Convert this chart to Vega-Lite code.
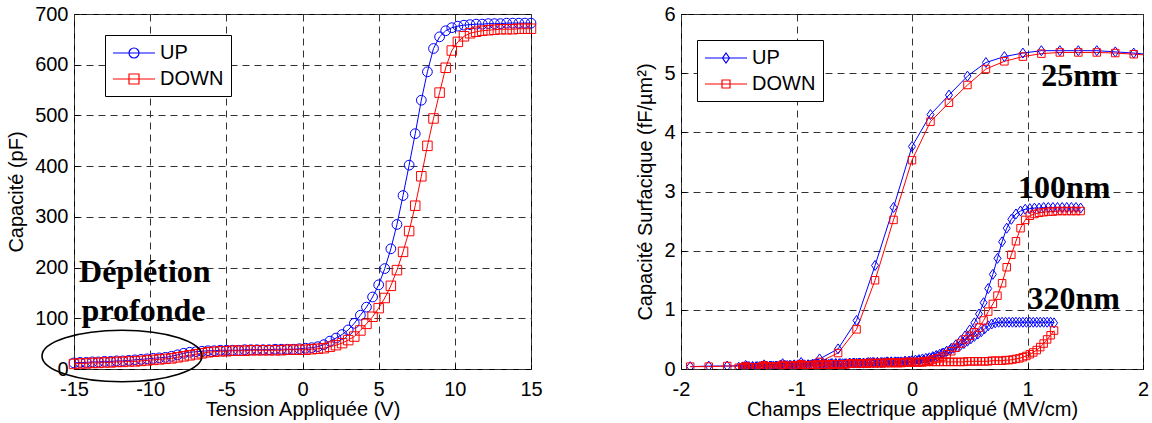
{
"$schema":"https://vega.github.io/schema/vega-lite/v6.json",
"background":"white",
"padding":{"left":6,"top":3,"right":5,"bottom":5},
"spacing":150,
"bounds":"flush",
"config":{
"font":"Liberation Sans",
"view":{"stroke":"black","strokeWidth":1},
"axis":{"domain":false,"grid":true,"gridColor":"#333","gridDash":[7,5],"gridWidth":1,"tickColor":"black","tickSize":-5,"labelFont":"Liberation Sans","labelFontSize":20,"labelColor":"black","labelFlush":false,"labelOverlap":false,"titleFont":"Liberation Sans","titleFontSize":20,"titleFontWeight":"normal","titleColor":"black"},
"axisX":{"labelPadding":15,"titlePadding":0},
"axisY":{"labelPadding":11,"titlePadding":8},
"legend":{"labelFont":"Liberation Sans","labelFontSize":20,"labelColor":"black","symbolSize":400,"symbolStrokeWidth":1.2,"symbolOpacity":1,"symbolFillColor":"transparent","labelOffset":26,"padding":7,"strokeColor":"black","fillColor":"white","rowPadding":5}
},
"datasets":{
"L":[
{"s":"UP","x":-15,"y":12},{"s":"UP","x":-14.6,"y":13},{"s":"UP","x":-14.2,"y":13},{"s":"UP","x":-13.8,"y":14},{"s":"UP","x":-13.4,"y":14},{"s":"UP","x":-13,"y":15},{"s":"UP","x":-12.6,"y":15},{"s":"UP","x":-12.2,"y":16},{"s":"UP","x":-11.8,"y":16},{"s":"UP","x":-11.4,"y":17},
{"s":"UP","x":-11,"y":18},{"s":"UP","x":-10.6,"y":19},{"s":"UP","x":-10.2,"y":20},{"s":"UP","x":-9.8,"y":21},{"s":"UP","x":-9.4,"y":22},{"s":"UP","x":-9,"y":23},{"s":"UP","x":-8.6,"y":25},{"s":"UP","x":-8.2,"y":28},{"s":"UP","x":-7.8,"y":31},{"s":"UP","x":-7.4,"y":33},
{"s":"UP","x":-7,"y":34},{"s":"UP","x":-6.6,"y":35},{"s":"UP","x":-6.2,"y":36},{"s":"UP","x":-5.8,"y":36},{"s":"UP","x":-5.4,"y":37},{"s":"UP","x":-5,"y":37},{"s":"UP","x":-4.6,"y":37},{"s":"UP","x":-4.2,"y":37},{"s":"UP","x":-3.8,"y":38},{"s":"UP","x":-3.4,"y":38},
{"s":"UP","x":-3,"y":38},{"s":"UP","x":-2.6,"y":38},{"s":"UP","x":-2.2,"y":38},{"s":"UP","x":-1.8,"y":39},{"s":"UP","x":-1.4,"y":39},{"s":"UP","x":-1,"y":39},{"s":"UP","x":-0.6,"y":39},{"s":"UP","x":-0.2,"y":40},{"s":"UP","x":0.2,"y":41},{"s":"UP","x":0.6,"y":42},
{"s":"UP","x":1,"y":44},{"s":"UP","x":1.4,"y":48},{"s":"UP","x":1.8,"y":55},{"s":"UP","x":2.2,"y":61},{"s":"UP","x":2.6,"y":68},{"s":"UP","x":3,"y":77},{"s":"UP","x":3.4,"y":90},{"s":"UP","x":3.8,"y":106},{"s":"UP","x":4.2,"y":122},{"s":"UP","x":4.6,"y":142},
{"s":"UP","x":5,"y":166},{"s":"UP","x":5.4,"y":198},{"s":"UP","x":5.8,"y":237},{"s":"UP","x":6.2,"y":285},{"s":"UP","x":6.6,"y":342},{"s":"UP","x":7,"y":402},{"s":"UP","x":7.4,"y":464},{"s":"UP","x":7.8,"y":530},{"s":"UP","x":8.2,"y":586},{"s":"UP","x":8.6,"y":632},
{"s":"UP","x":9,"y":655},{"s":"UP","x":9.4,"y":667},{"s":"UP","x":9.8,"y":673},{"s":"UP","x":10.2,"y":676},{"s":"UP","x":10.6,"y":678},{"s":"UP","x":11,"y":679},{"s":"UP","x":11.4,"y":680},{"s":"UP","x":11.8,"y":680},{"s":"UP","x":12.2,"y":681},{"s":"UP","x":12.6,"y":681},
{"s":"UP","x":13,"y":681},{"s":"UP","x":13.4,"y":682},{"s":"UP","x":13.8,"y":682},{"s":"UP","x":14.2,"y":682},{"s":"UP","x":14.6,"y":682},{"s":"UP","x":15,"y":682},
{"s":"DOWN","x":-15,"y":10},{"s":"DOWN","x":-14.6,"y":11},{"s":"DOWN","x":-14.2,"y":11},{"s":"DOWN","x":-13.8,"y":12},{"s":"DOWN","x":-13.4,"y":12},{"s":"DOWN","x":-13,"y":13},{"s":"DOWN","x":-12.6,"y":13},{"s":"DOWN","x":-12.2,"y":14},{"s":"DOWN","x":-11.8,"y":14},{"s":"DOWN","x":-11.4,"y":15},
{"s":"DOWN","x":-11,"y":15},{"s":"DOWN","x":-10.6,"y":16},{"s":"DOWN","x":-10.2,"y":17},{"s":"DOWN","x":-9.8,"y":18},{"s":"DOWN","x":-9.4,"y":19},{"s":"DOWN","x":-9,"y":20},{"s":"DOWN","x":-8.6,"y":21},{"s":"DOWN","x":-8.2,"y":23},{"s":"DOWN","x":-7.8,"y":25},{"s":"DOWN","x":-7.4,"y":27},
{"s":"DOWN","x":-7,"y":29},{"s":"DOWN","x":-6.6,"y":31},{"s":"DOWN","x":-6.2,"y":33},{"s":"DOWN","x":-5.8,"y":34},{"s":"DOWN","x":-5.4,"y":35},{"s":"DOWN","x":-5,"y":35},{"s":"DOWN","x":-4.6,"y":36},{"s":"DOWN","x":-4.2,"y":36},{"s":"DOWN","x":-3.8,"y":36},{"s":"DOWN","x":-3.4,"y":37},
{"s":"DOWN","x":-3,"y":37},{"s":"DOWN","x":-2.6,"y":37},{"s":"DOWN","x":-2.2,"y":37},{"s":"DOWN","x":-1.8,"y":37},{"s":"DOWN","x":-1.4,"y":37},{"s":"DOWN","x":-1,"y":38},{"s":"DOWN","x":-0.6,"y":38},{"s":"DOWN","x":-0.2,"y":38},{"s":"DOWN","x":0.2,"y":38},{"s":"DOWN","x":0.6,"y":39},
{"s":"DOWN","x":1,"y":40},{"s":"DOWN","x":1.4,"y":41},{"s":"DOWN","x":1.8,"y":44},{"s":"DOWN","x":2.2,"y":47},{"s":"DOWN","x":2.6,"y":51},{"s":"DOWN","x":3,"y":57},{"s":"DOWN","x":3.4,"y":64},{"s":"DOWN","x":3.8,"y":76},{"s":"DOWN","x":4.2,"y":89},{"s":"DOWN","x":4.6,"y":103},
{"s":"DOWN","x":5,"y":120},{"s":"DOWN","x":5.4,"y":140},{"s":"DOWN","x":5.8,"y":164},{"s":"DOWN","x":6.2,"y":195},{"s":"DOWN","x":6.6,"y":231},{"s":"DOWN","x":7,"y":272},{"s":"DOWN","x":7.4,"y":322},{"s":"DOWN","x":7.8,"y":380},{"s":"DOWN","x":8.2,"y":440},{"s":"DOWN","x":8.6,"y":494},
{"s":"DOWN","x":9,"y":545},{"s":"DOWN","x":9.4,"y":594},{"s":"DOWN","x":9.8,"y":628},{"s":"DOWN","x":10.2,"y":645},{"s":"DOWN","x":10.6,"y":656},{"s":"DOWN","x":11,"y":662},{"s":"DOWN","x":11.4,"y":665},{"s":"DOWN","x":11.8,"y":667},{"s":"DOWN","x":12.2,"y":668},{"s":"DOWN","x":12.6,"y":669},
{"s":"DOWN","x":13,"y":670},{"s":"DOWN","x":13.4,"y":670},{"s":"DOWN","x":13.8,"y":670},{"s":"DOWN","x":14.2,"y":671},{"s":"DOWN","x":14.6,"y":671},{"s":"DOWN","x":15,"y":671}
],
"R":[
{"t":"25nm","s":"UP","x":-1.92,"y":0.04},{"t":"25nm","s":"UP","x":-1.76,"y":0.05},{"t":"25nm","s":"UP","x":-1.6,"y":0.05},{"t":"25nm","s":"UP","x":-1.44,"y":0.06},{"t":"25nm","s":"UP","x":-1.28,"y":0.07},{"t":"25nm","s":"UP","x":-1.12,"y":0.09},{"t":"25nm","s":"UP","x":-0.96,"y":0.11},{"t":"25nm","s":"UP","x":-0.8,"y":0.17},{"t":"25nm","s":"UP","x":-0.64,"y":0.34},{"t":"25nm","s":"UP","x":-0.48,"y":0.82},{"t":"25nm","s":"UP","x":-0.32,"y":1.75},{"t":"25nm","s":"UP","x":-0.16,"y":2.73},{"t":"25nm","s":"UP","x":0,"y":3.76},{"t":"25nm","s":"UP","x":0.16,"y":4.3},{"t":"25nm","s":"UP","x":0.32,"y":4.63},{"t":"25nm","s":"UP","x":0.48,"y":4.95},{"t":"25nm","s":"UP","x":0.64,"y":5.18},{"t":"25nm","s":"UP","x":0.8,"y":5.28},{"t":"25nm","s":"UP","x":0.96,"y":5.34},{"t":"25nm","s":"UP","x":1.12,"y":5.38},{"t":"25nm","s":"UP","x":1.28,"y":5.38},{"t":"25nm","s":"UP","x":1.44,"y":5.38},{"t":"25nm","s":"UP","x":1.6,"y":5.38},{"t":"25nm","s":"UP","x":1.76,"y":5.36},{"t":"25nm","s":"UP","x":1.92,"y":5.34},{"t":"25nm","s":"UP","x":2.08,"y":5.31},
{"t":"25nm","s":"DOWN","x":-1.92,"y":0.04},{"t":"25nm","s":"DOWN","x":-1.76,"y":0.04},{"t":"25nm","s":"DOWN","x":-1.6,"y":0.05},{"t":"25nm","s":"DOWN","x":-1.44,"y":0.05},{"t":"25nm","s":"DOWN","x":-1.28,"y":0.06},{"t":"25nm","s":"DOWN","x":-1.12,"y":0.07},{"t":"25nm","s":"DOWN","x":-0.96,"y":0.08},{"t":"25nm","s":"DOWN","x":-0.8,"y":0.12},{"t":"25nm","s":"DOWN","x":-0.64,"y":0.27},{"t":"25nm","s":"DOWN","x":-0.48,"y":0.67},{"t":"25nm","s":"DOWN","x":-0.32,"y":1.5},{"t":"25nm","s":"DOWN","x":-0.16,"y":2.52},{"t":"25nm","s":"DOWN","x":0,"y":3.53},{"t":"25nm","s":"DOWN","x":0.16,"y":4.18},{"t":"25nm","s":"DOWN","x":0.32,"y":4.5},{"t":"25nm","s":"DOWN","x":0.48,"y":4.8},{"t":"25nm","s":"DOWN","x":0.64,"y":5.07},{"t":"25nm","s":"DOWN","x":0.8,"y":5.2},{"t":"25nm","s":"DOWN","x":0.96,"y":5.28},{"t":"25nm","s":"DOWN","x":1.12,"y":5.33},{"t":"25nm","s":"DOWN","x":1.28,"y":5.35},{"t":"25nm","s":"DOWN","x":1.44,"y":5.35},{"t":"25nm","s":"DOWN","x":1.6,"y":5.35},{"t":"25nm","s":"DOWN","x":1.76,"y":5.34},{"t":"25nm","s":"DOWN","x":1.92,"y":5.32},{"t":"25nm","s":"DOWN","x":2.08,"y":5.3},
{"t":"100nm","s":"UP","x":-1.5,"y":0.03},{"t":"100nm","s":"UP","x":-1.46,"y":0.03},{"t":"100nm","s":"UP","x":-1.42,"y":0.04},{"t":"100nm","s":"UP","x":-1.38,"y":0.04},{"t":"100nm","s":"UP","x":-1.34,"y":0.04},{"t":"100nm","s":"UP","x":-1.3,"y":0.05},{"t":"100nm","s":"UP","x":-1.26,"y":0.05},{"t":"100nm","s":"UP","x":-1.22,"y":0.05},{"t":"100nm","s":"UP","x":-1.18,"y":0.05},{"t":"100nm","s":"UP","x":-1.14,"y":0.06},{"t":"100nm","s":"UP","x":-1.1,"y":0.06},{"t":"100nm","s":"UP","x":-1.06,"y":0.06},{"t":"100nm","s":"UP","x":-1.02,"y":0.07},{"t":"100nm","s":"UP","x":-0.98,"y":0.07},{"t":"100nm","s":"UP","x":-0.94,"y":0.07},{"t":"100nm","s":"UP","x":-0.9,"y":0.07},{"t":"100nm","s":"UP","x":-0.86,"y":0.08},{"t":"100nm","s":"UP","x":-0.82,"y":0.08},{"t":"100nm","s":"UP","x":-0.78,"y":0.08},{"t":"100nm","s":"UP","x":-0.74,"y":0.08},{"t":"100nm","s":"UP","x":-0.7,"y":0.09},{"t":"100nm","s":"UP","x":-0.66,"y":0.09},{"t":"100nm","s":"UP","x":-0.62,"y":0.09},{"t":"100nm","s":"UP","x":-0.58,"y":0.09},{"t":"100nm","s":"UP","x":-0.54,"y":0.1},{"t":"100nm","s":"UP","x":-0.5,"y":0.1},{"t":"100nm","s":"UP","x":-0.46,"y":0.1},{"t":"100nm","s":"UP","x":-0.42,"y":0.1},{"t":"100nm","s":"UP","x":-0.38,"y":0.11},{"t":"100nm","s":"UP","x":-0.34,"y":0.11},{"t":"100nm","s":"UP","x":-0.3,"y":0.11},{"t":"100nm","s":"UP","x":-0.26,"y":0.11},{"t":"100nm","s":"UP","x":-0.22,"y":0.12},{"t":"100nm","s":"UP","x":-0.18,"y":0.12},{"t":"100nm","s":"UP","x":-0.14,"y":0.12},{"t":"100nm","s":"UP","x":-0.1,"y":0.12},{"t":"100nm","s":"UP","x":-0.06,"y":0.13},{"t":"100nm","s":"UP","x":-0.02,"y":0.13},
{"t":"100nm","s":"UP","x":0.02,"y":0.13},{"t":"100nm","s":"UP","x":0.06,"y":0.14},{"t":"100nm","s":"UP","x":0.1,"y":0.15},{"t":"100nm","s":"UP","x":0.14,"y":0.17},{"t":"100nm","s":"UP","x":0.18,"y":0.19},{"t":"100nm","s":"UP","x":0.22,"y":0.22},{"t":"100nm","s":"UP","x":0.26,"y":0.26},{"t":"100nm","s":"UP","x":0.3,"y":0.3},{"t":"100nm","s":"UP","x":0.34,"y":0.35},{"t":"100nm","s":"UP","x":0.38,"y":0.41},{"t":"100nm","s":"UP","x":0.42,"y":0.48},{"t":"100nm","s":"UP","x":0.46,"y":0.56},{"t":"100nm","s":"UP","x":0.5,"y":0.66},{"t":"100nm","s":"UP","x":0.54,"y":0.78},{"t":"100nm","s":"UP","x":0.58,"y":0.93},{"t":"100nm","s":"UP","x":0.62,"y":1.12},{"t":"100nm","s":"UP","x":0.66,"y":1.36},{"t":"100nm","s":"UP","x":0.7,"y":1.6},{"t":"100nm","s":"UP","x":0.74,"y":1.87},{"t":"100nm","s":"UP","x":0.78,"y":2.15},{"t":"100nm","s":"UP","x":0.82,"y":2.38},{"t":"100nm","s":"UP","x":0.86,"y":2.53},{"t":"100nm","s":"UP","x":0.9,"y":2.62},{"t":"100nm","s":"UP","x":0.94,"y":2.67},{"t":"100nm","s":"UP","x":0.98,"y":2.7},{"t":"100nm","s":"UP","x":1.02,"y":2.71},{"t":"100nm","s":"UP","x":1.06,"y":2.72},{"t":"100nm","s":"UP","x":1.1,"y":2.72},{"t":"100nm","s":"UP","x":1.14,"y":2.73},{"t":"100nm","s":"UP","x":1.18,"y":2.73},{"t":"100nm","s":"UP","x":1.22,"y":2.73},{"t":"100nm","s":"UP","x":1.26,"y":2.73},{"t":"100nm","s":"UP","x":1.3,"y":2.73},{"t":"100nm","s":"UP","x":1.34,"y":2.73},{"t":"100nm","s":"UP","x":1.38,"y":2.73},{"t":"100nm","s":"UP","x":1.42,"y":2.73},{"t":"100nm","s":"UP","x":1.46,"y":2.72},
{"t":"100nm","s":"DOWN","x":-1.5,"y":0.02},{"t":"100nm","s":"DOWN","x":-1.46,"y":0.02},{"t":"100nm","s":"DOWN","x":-1.42,"y":0.03},{"t":"100nm","s":"DOWN","x":-1.38,"y":0.03},{"t":"100nm","s":"DOWN","x":-1.34,"y":0.03},{"t":"100nm","s":"DOWN","x":-1.3,"y":0.04},{"t":"100nm","s":"DOWN","x":-1.26,"y":0.04},{"t":"100nm","s":"DOWN","x":-1.22,"y":0.04},{"t":"100nm","s":"DOWN","x":-1.18,"y":0.04},{"t":"100nm","s":"DOWN","x":-1.14,"y":0.05},{"t":"100nm","s":"DOWN","x":-1.1,"y":0.05},{"t":"100nm","s":"DOWN","x":-1.06,"y":0.05},{"t":"100nm","s":"DOWN","x":-1.02,"y":0.06},{"t":"100nm","s":"DOWN","x":-0.98,"y":0.06},{"t":"100nm","s":"DOWN","x":-0.94,"y":0.06},{"t":"100nm","s":"DOWN","x":-0.9,"y":0.06},{"t":"100nm","s":"DOWN","x":-0.86,"y":0.07},{"t":"100nm","s":"DOWN","x":-0.82,"y":0.07},{"t":"100nm","s":"DOWN","x":-0.78,"y":0.07},{"t":"100nm","s":"DOWN","x":-0.74,"y":0.07},{"t":"100nm","s":"DOWN","x":-0.7,"y":0.08},{"t":"100nm","s":"DOWN","x":-0.66,"y":0.08},{"t":"100nm","s":"DOWN","x":-0.62,"y":0.08},{"t":"100nm","s":"DOWN","x":-0.58,"y":0.08},{"t":"100nm","s":"DOWN","x":-0.54,"y":0.09},{"t":"100nm","s":"DOWN","x":-0.5,"y":0.09},{"t":"100nm","s":"DOWN","x":-0.46,"y":0.09},{"t":"100nm","s":"DOWN","x":-0.42,"y":0.09},{"t":"100nm","s":"DOWN","x":-0.38,"y":0.1},{"t":"100nm","s":"DOWN","x":-0.34,"y":0.1},{"t":"100nm","s":"DOWN","x":-0.3,"y":0.1},{"t":"100nm","s":"DOWN","x":-0.26,"y":0.1},{"t":"100nm","s":"DOWN","x":-0.22,"y":0.11},{"t":"100nm","s":"DOWN","x":-0.18,"y":0.11},{"t":"100nm","s":"DOWN","x":-0.14,"y":0.11},{"t":"100nm","s":"DOWN","x":-0.1,"y":0.11},{"t":"100nm","s":"DOWN","x":-0.06,"y":0.12},{"t":"100nm","s":"DOWN","x":-0.02,"y":0.12},
{"t":"100nm","s":"DOWN","x":0.02,"y":0.12},{"t":"100nm","s":"DOWN","x":0.06,"y":0.12},{"t":"100nm","s":"DOWN","x":0.1,"y":0.13},{"t":"100nm","s":"DOWN","x":0.14,"y":0.14},{"t":"100nm","s":"DOWN","x":0.18,"y":0.16},{"t":"100nm","s":"DOWN","x":0.22,"y":0.18},{"t":"100nm","s":"DOWN","x":0.26,"y":0.21},{"t":"100nm","s":"DOWN","x":0.3,"y":0.25},{"t":"100nm","s":"DOWN","x":0.34,"y":0.3},{"t":"100nm","s":"DOWN","x":0.38,"y":0.36},{"t":"100nm","s":"DOWN","x":0.42,"y":0.43},{"t":"100nm","s":"DOWN","x":0.46,"y":0.5},{"t":"100nm","s":"DOWN","x":0.5,"y":0.56},{"t":"100nm","s":"DOWN","x":0.54,"y":0.62},{"t":"100nm","s":"DOWN","x":0.58,"y":0.7},{"t":"100nm","s":"DOWN","x":0.62,"y":0.82},{"t":"100nm","s":"DOWN","x":0.66,"y":0.97},{"t":"100nm","s":"DOWN","x":0.7,"y":1.1},{"t":"100nm","s":"DOWN","x":0.74,"y":1.24},{"t":"100nm","s":"DOWN","x":0.78,"y":1.45},{"t":"100nm","s":"DOWN","x":0.82,"y":1.72},{"t":"100nm","s":"DOWN","x":0.86,"y":1.93},{"t":"100nm","s":"DOWN","x":0.9,"y":2.16},{"t":"100nm","s":"DOWN","x":0.94,"y":2.38},{"t":"100nm","s":"DOWN","x":0.98,"y":2.52},{"t":"100nm","s":"DOWN","x":1.02,"y":2.59},{"t":"100nm","s":"DOWN","x":1.06,"y":2.62},{"t":"100nm","s":"DOWN","x":1.1,"y":2.64},{"t":"100nm","s":"DOWN","x":1.14,"y":2.65},{"t":"100nm","s":"DOWN","x":1.18,"y":2.66},{"t":"100nm","s":"DOWN","x":1.22,"y":2.66},{"t":"100nm","s":"DOWN","x":1.26,"y":2.67},{"t":"100nm","s":"DOWN","x":1.3,"y":2.67},{"t":"100nm","s":"DOWN","x":1.34,"y":2.67},{"t":"100nm","s":"DOWN","x":1.38,"y":2.67},{"t":"100nm","s":"DOWN","x":1.42,"y":2.67},{"t":"100nm","s":"DOWN","x":1.46,"y":2.67},
{"t":"320nm","s":"UP","x":-1.47,"y":0.03},{"t":"320nm","s":"UP","x":-1.44,"y":0.03},{"t":"320nm","s":"UP","x":-1.41,"y":0.04},{"t":"320nm","s":"UP","x":-1.38,"y":0.04},{"t":"320nm","s":"UP","x":-1.35,"y":0.04},{"t":"320nm","s":"UP","x":-1.32,"y":0.04},{"t":"320nm","s":"UP","x":-1.29,"y":0.05},{"t":"320nm","s":"UP","x":-1.26,"y":0.05},{"t":"320nm","s":"UP","x":-1.23,"y":0.05},{"t":"320nm","s":"UP","x":-1.2,"y":0.05},{"t":"320nm","s":"UP","x":-1.17,"y":0.05},{"t":"320nm","s":"UP","x":-1.14,"y":0.06},{"t":"320nm","s":"UP","x":-1.11,"y":0.06},{"t":"320nm","s":"UP","x":-1.08,"y":0.06},{"t":"320nm","s":"UP","x":-1.05,"y":0.06},{"t":"320nm","s":"UP","x":-1.02,"y":0.06},{"t":"320nm","s":"UP","x":-0.99,"y":0.07},
{"t":"320nm","s":"UP","x":-0.96,"y":0.07},{"t":"320nm","s":"UP","x":-0.93,"y":0.07},{"t":"320nm","s":"UP","x":-0.9,"y":0.07},{"t":"320nm","s":"UP","x":-0.87,"y":0.07},{"t":"320nm","s":"UP","x":-0.84,"y":0.08},{"t":"320nm","s":"UP","x":-0.81,"y":0.08},{"t":"320nm","s":"UP","x":-0.78,"y":0.08},{"t":"320nm","s":"UP","x":-0.75,"y":0.08},{"t":"320nm","s":"UP","x":-0.72,"y":0.08},{"t":"320nm","s":"UP","x":-0.69,"y":0.09},{"t":"320nm","s":"UP","x":-0.66,"y":0.09},{"t":"320nm","s":"UP","x":-0.63,"y":0.09},{"t":"320nm","s":"UP","x":-0.6,"y":0.09},{"t":"320nm","s":"UP","x":-0.57,"y":0.09},{"t":"320nm","s":"UP","x":-0.54,"y":0.1},{"t":"320nm","s":"UP","x":-0.51,"y":0.1},{"t":"320nm","s":"UP","x":-0.48,"y":0.1},{"t":"320nm","s":"UP","x":-0.45,"y":0.1},{"t":"320nm","s":"UP","x":-0.42,"y":0.1},{"t":"320nm","s":"UP","x":-0.39,"y":0.1},{"t":"320nm","s":"UP","x":-0.36,"y":0.11},{"t":"320nm","s":"UP","x":-0.33,"y":0.11},{"t":"320nm","s":"UP","x":-0.3,"y":0.11},{"t":"320nm","s":"UP","x":-0.27,"y":0.11},{"t":"320nm","s":"UP","x":-0.24,"y":0.11},{"t":"320nm","s":"UP","x":-0.21,"y":0.12},{"t":"320nm","s":"UP","x":-0.18,"y":0.12},{"t":"320nm","s":"UP","x":-0.15,"y":0.12},{"t":"320nm","s":"UP","x":-0.12,"y":0.12},{"t":"320nm","s":"UP","x":-0.09,"y":0.12},{"t":"320nm","s":"UP","x":-0.06,"y":0.13},{"t":"320nm","s":"UP","x":-0.03,"y":0.13},
{"t":"320nm","s":"UP","x":0,"y":0.14},{"t":"320nm","s":"UP","x":0.03,"y":0.15},{"t":"320nm","s":"UP","x":0.06,"y":0.16},{"t":"320nm","s":"UP","x":0.09,"y":0.17},{"t":"320nm","s":"UP","x":0.12,"y":0.18},{"t":"320nm","s":"UP","x":0.15,"y":0.19},{"t":"320nm","s":"UP","x":0.18,"y":0.21},{"t":"320nm","s":"UP","x":0.21,"y":0.23},{"t":"320nm","s":"UP","x":0.24,"y":0.25},{"t":"320nm","s":"UP","x":0.27,"y":0.27},{"t":"320nm","s":"UP","x":0.3,"y":0.3},{"t":"320nm","s":"UP","x":0.33,"y":0.32},{"t":"320nm","s":"UP","x":0.36,"y":0.35},{"t":"320nm","s":"UP","x":0.39,"y":0.37},{"t":"320nm","s":"UP","x":0.42,"y":0.4},{"t":"320nm","s":"UP","x":0.45,"y":0.43},{"t":"320nm","s":"UP","x":0.48,"y":0.47},{"t":"320nm","s":"UP","x":0.51,"y":0.51},{"t":"320nm","s":"UP","x":0.54,"y":0.55},{"t":"320nm","s":"UP","x":0.57,"y":0.59},{"t":"320nm","s":"UP","x":0.6,"y":0.63},{"t":"320nm","s":"UP","x":0.63,"y":0.68},{"t":"320nm","s":"UP","x":0.66,"y":0.73},{"t":"320nm","s":"UP","x":0.69,"y":0.76},{"t":"320nm","s":"UP","x":0.72,"y":0.78},{"t":"320nm","s":"UP","x":0.75,"y":0.79},{"t":"320nm","s":"UP","x":0.78,"y":0.79},{"t":"320nm","s":"UP","x":0.81,"y":0.79},{"t":"320nm","s":"UP","x":0.84,"y":0.79},{"t":"320nm","s":"UP","x":0.87,"y":0.79},{"t":"320nm","s":"UP","x":0.9,"y":0.79},{"t":"320nm","s":"UP","x":0.93,"y":0.79},{"t":"320nm","s":"UP","x":0.96,"y":0.79},{"t":"320nm","s":"UP","x":0.99,"y":0.79},{"t":"320nm","s":"UP","x":1.02,"y":0.79},{"t":"320nm","s":"UP","x":1.05,"y":0.79},{"t":"320nm","s":"UP","x":1.08,"y":0.79},{"t":"320nm","s":"UP","x":1.11,"y":0.79},{"t":"320nm","s":"UP","x":1.14,"y":0.79},{"t":"320nm","s":"UP","x":1.17,"y":0.79},{"t":"320nm","s":"UP","x":1.2,"y":0.79},{"t":"320nm","s":"UP","x":1.23,"y":0.78},
{"t":"320nm","s":"DOWN","x":-1.47,"y":0.02},{"t":"320nm","s":"DOWN","x":-1.44,"y":0.02},{"t":"320nm","s":"DOWN","x":-1.41,"y":0.03},{"t":"320nm","s":"DOWN","x":-1.38,"y":0.03},{"t":"320nm","s":"DOWN","x":-1.35,"y":0.03},{"t":"320nm","s":"DOWN","x":-1.32,"y":0.03},{"t":"320nm","s":"DOWN","x":-1.29,"y":0.04},{"t":"320nm","s":"DOWN","x":-1.26,"y":0.04},{"t":"320nm","s":"DOWN","x":-1.23,"y":0.04},{"t":"320nm","s":"DOWN","x":-1.2,"y":0.04},{"t":"320nm","s":"DOWN","x":-1.17,"y":0.04},{"t":"320nm","s":"DOWN","x":-1.14,"y":0.05},{"t":"320nm","s":"DOWN","x":-1.11,"y":0.05},{"t":"320nm","s":"DOWN","x":-1.08,"y":0.05},{"t":"320nm","s":"DOWN","x":-1.05,"y":0.05},{"t":"320nm","s":"DOWN","x":-1.02,"y":0.05},{"t":"320nm","s":"DOWN","x":-0.99,"y":0.06},
{"t":"320nm","s":"DOWN","x":-0.96,"y":0.06},{"t":"320nm","s":"DOWN","x":-0.93,"y":0.06},{"t":"320nm","s":"DOWN","x":-0.9,"y":0.06},{"t":"320nm","s":"DOWN","x":-0.87,"y":0.06},{"t":"320nm","s":"DOWN","x":-0.84,"y":0.07},{"t":"320nm","s":"DOWN","x":-0.81,"y":0.07},{"t":"320nm","s":"DOWN","x":-0.78,"y":0.07},{"t":"320nm","s":"DOWN","x":-0.75,"y":0.07},{"t":"320nm","s":"DOWN","x":-0.72,"y":0.07},{"t":"320nm","s":"DOWN","x":-0.69,"y":0.08},{"t":"320nm","s":"DOWN","x":-0.66,"y":0.08},{"t":"320nm","s":"DOWN","x":-0.63,"y":0.08},{"t":"320nm","s":"DOWN","x":-0.6,"y":0.08},{"t":"320nm","s":"DOWN","x":-0.57,"y":0.08},{"t":"320nm","s":"DOWN","x":-0.54,"y":0.09},{"t":"320nm","s":"DOWN","x":-0.51,"y":0.09},{"t":"320nm","s":"DOWN","x":-0.48,"y":0.09},{"t":"320nm","s":"DOWN","x":-0.45,"y":0.09},{"t":"320nm","s":"DOWN","x":-0.42,"y":0.09},{"t":"320nm","s":"DOWN","x":-0.39,"y":0.09},{"t":"320nm","s":"DOWN","x":-0.36,"y":0.1},{"t":"320nm","s":"DOWN","x":-0.33,"y":0.1},{"t":"320nm","s":"DOWN","x":-0.3,"y":0.1},{"t":"320nm","s":"DOWN","x":-0.27,"y":0.1},{"t":"320nm","s":"DOWN","x":-0.24,"y":0.1},{"t":"320nm","s":"DOWN","x":-0.21,"y":0.1},{"t":"320nm","s":"DOWN","x":-0.18,"y":0.1},{"t":"320nm","s":"DOWN","x":-0.15,"y":0.1},{"t":"320nm","s":"DOWN","x":-0.12,"y":0.1},{"t":"320nm","s":"DOWN","x":-0.09,"y":0.1},{"t":"320nm","s":"DOWN","x":-0.06,"y":0.11},{"t":"320nm","s":"DOWN","x":-0.03,"y":0.11},
{"t":"320nm","s":"DOWN","x":0,"y":0.11},{"t":"320nm","s":"DOWN","x":0.03,"y":0.11},{"t":"320nm","s":"DOWN","x":0.06,"y":0.11},{"t":"320nm","s":"DOWN","x":0.09,"y":0.11},{"t":"320nm","s":"DOWN","x":0.12,"y":0.12},{"t":"320nm","s":"DOWN","x":0.15,"y":0.12},{"t":"320nm","s":"DOWN","x":0.18,"y":0.12},{"t":"320nm","s":"DOWN","x":0.21,"y":0.12},{"t":"320nm","s":"DOWN","x":0.24,"y":0.12},{"t":"320nm","s":"DOWN","x":0.27,"y":0.12},{"t":"320nm","s":"DOWN","x":0.3,"y":0.12},{"t":"320nm","s":"DOWN","x":0.33,"y":0.12},{"t":"320nm","s":"DOWN","x":0.36,"y":0.12},{"t":"320nm","s":"DOWN","x":0.39,"y":0.12},{"t":"320nm","s":"DOWN","x":0.42,"y":0.12},{"t":"320nm","s":"DOWN","x":0.45,"y":0.12},{"t":"320nm","s":"DOWN","x":0.48,"y":0.13},{"t":"320nm","s":"DOWN","x":0.51,"y":0.13},{"t":"320nm","s":"DOWN","x":0.54,"y":0.13},{"t":"320nm","s":"DOWN","x":0.57,"y":0.13},{"t":"320nm","s":"DOWN","x":0.6,"y":0.13},{"t":"320nm","s":"DOWN","x":0.63,"y":0.13},{"t":"320nm","s":"DOWN","x":0.66,"y":0.13},{"t":"320nm","s":"DOWN","x":0.69,"y":0.14},{"t":"320nm","s":"DOWN","x":0.72,"y":0.14},{"t":"320nm","s":"DOWN","x":0.75,"y":0.14},{"t":"320nm","s":"DOWN","x":0.78,"y":0.14},{"t":"320nm","s":"DOWN","x":0.81,"y":0.15},{"t":"320nm","s":"DOWN","x":0.84,"y":0.15},{"t":"320nm","s":"DOWN","x":0.87,"y":0.16},{"t":"320nm","s":"DOWN","x":0.9,"y":0.17},{"t":"320nm","s":"DOWN","x":0.93,"y":0.18},{"t":"320nm","s":"DOWN","x":0.96,"y":0.2},{"t":"320nm","s":"DOWN","x":0.99,"y":0.22},{"t":"320nm","s":"DOWN","x":1.02,"y":0.25},{"t":"320nm","s":"DOWN","x":1.05,"y":0.28},{"t":"320nm","s":"DOWN","x":1.08,"y":0.32},{"t":"320nm","s":"DOWN","x":1.11,"y":0.37},{"t":"320nm","s":"DOWN","x":1.14,"y":0.43},{"t":"320nm","s":"DOWN","x":1.17,"y":0.5},{"t":"320nm","s":"DOWN","x":1.2,"y":0.57},{"t":"320nm","s":"DOWN","x":1.23,"y":0.65}
],
"series":[{"s":"UP"},{"s":"DOWN"}],
"annL":[{"x":-14.67,"y":172,"label":"Déplétion"},{"x":-14.5,"y":95,"label":"profonde"}],
"ellL":[{"x":-11.85,"y":25.6}],
"annR":[{"x":1.12,"y":4.79,"label":"25nm"},{"x":0.917,"y":2.89,"label":"100nm"},{"x":1.0,"y":1.02,"label":"320nm"}]
},
"resolve":{"scale":{"color":"independent","shape":"independent"},"legend":{"color":"independent","shape":"independent"}},
"hconcat":[
{
"width":457,"height":355,
"layer":[
{"data":{"name":"L"},"transform":[{"filter":"datum.s === 'UP'"}],"mark":{"type":"line","strokeWidth":1,"color":"#0000ff"},
"encoding":{
"x":{"field":"x","type":"quantitative","scale":{"domain":[-15,15],"nice":false,"zero":false},"axis":{"values":[-15,-10,-5,0,5,10,15],"title":"Tension Appliquée (V)","labelExpr":"'' + datum.value"}},
"y":{"field":"y","type":"quantitative","scale":{"domain":[0,700],"nice":false},"axis":{"values":[0,100,200,300,400,500,600,700],"title":"Capacité (pF)","labelExpr":"'' + datum.value"}},
"order":{"field":"x","type":"quantitative"}}},
{"data":{"name":"L"},"transform":[{"filter":"datum.s === 'DOWN'"}],"mark":{"type":"line","strokeWidth":1,"color":"#ff0000"},
"encoding":{"x":{"field":"x","type":"quantitative"},"y":{"field":"y","type":"quantitative"},"order":{"field":"x","type":"quantitative"}}},
{"data":{"name":"L"},"transform":[{"filter":"datum.s === 'UP'"}],"mark":{"type":"point","shape":"circle","filled":false,"size":95,"strokeWidth":1,"opacity":1,"color":"#0000ff"},
"encoding":{"x":{"field":"x","type":"quantitative"},"y":{"field":"y","type":"quantitative"}}},
{"data":{"name":"L"},"transform":[{"filter":"datum.s === 'DOWN'"}],"mark":{"type":"point","shape":"square","filled":false,"size":90,"strokeWidth":1,"opacity":1,"color":"#ff0000"},
"encoding":{"x":{"field":"x","type":"quantitative"},"y":{"field":"y","type":"quantitative"}}},
{"data":{"name":"series"},"mark":{"type":"point","filled":false,"size":0,"strokeWidth":1,"opacity":1},
"encoding":{
"color":{"field":"s","type":"nominal","scale":{"domain":["UP","DOWN"],"range":["#0000ff","#ff0000"]},"legend":{"title":null,"orient":"none","legendX":31,"legendY":21}},
"shape":{"field":"s","type":"nominal","scale":{"domain":["UP","DOWN"],"range":["M-1,0L3.2,0M0.6,0A0.5,0.5,0,1,0,1.6,0A0.5,0.5,0,1,0,0.6,0","M-1,0L3.2,0M0.6,-0.5L1.6,-0.5L1.6,0.5L0.6,0.5Z"]},"legend":{"title":null,"orient":"none","legendX":31,"legendY":21}}}},
{"data":{"name":"annL"},"mark":{"type":"text","align":"left","baseline":"alphabetic","font":"Liberation Serif","fontWeight":"bold","fontSize":32,"color":"black"},
"encoding":{"x":{"field":"x","type":"quantitative"},"y":{"field":"y","type":"quantitative"},"text":{"field":"label"}}},
{"data":{"name":"ellL"},"mark":{"type":"point","shape":"M-1,0A1,0.3225,0,1,0,1,0A1,0.3225,0,1,0,-1,0Z","size":25600,"filled":false,"stroke":"black","strokeWidth":1.6,"opacity":1},
"encoding":{"x":{"field":"x","type":"quantitative"},"y":{"field":"y","type":"quantitative"}}}
]
},
{
"width":462,"height":355,
"layer":[
{"data":{"name":"R"},"transform":[{"filter":"datum.s === 'UP'"}],"mark":{"type":"line","strokeWidth":1,"clip":true,"color":"#0000ff"},
"encoding":{
"x":{"field":"x","type":"quantitative","scale":{"domain":[-2,2],"nice":false,"zero":false},"axis":{"values":[-2,-1,0,1,2],"title":"Champs Electrique appliqué (MV/cm)","labelExpr":"'' + datum.value"}},
"y":{"field":"y","type":"quantitative","scale":{"domain":[0,6],"nice":false},"axis":{"values":[0,1,2,3,4,5,6],"title":"Capacité Surfacique (fF/µm²)","labelExpr":"'' + datum.value"}},
"detail":{"field":"t"},
"order":{"field":"x","type":"quantitative"}}},
{"data":{"name":"R"},"transform":[{"filter":"datum.s === 'DOWN'"}],"mark":{"type":"line","strokeWidth":1,"clip":true,"color":"#ff0000"},
"encoding":{"x":{"field":"x","type":"quantitative"},"y":{"field":"y","type":"quantitative"},"detail":{"field":"t"},"order":{"field":"x","type":"quantitative"}}},
{"data":{"name":"R"},"transform":[{"filter":"datum.s === 'UP'"}],"mark":{"type":"point","shape":"M0,-1L0.7,0L0,1L-0.7,0Z","filled":false,"size":100,"strokeWidth":1,"opacity":1,"clip":true,"color":"#0000ff"},
"encoding":{"x":{"field":"x","type":"quantitative"},"y":{"field":"y","type":"quantitative"}}},
{"data":{"name":"R"},"transform":[{"filter":"datum.s === 'DOWN'"}],"mark":{"type":"point","shape":"square","filled":false,"size":56,"strokeWidth":1,"opacity":1,"clip":true,"color":"#ff0000"},
"encoding":{"x":{"field":"x","type":"quantitative"},"y":{"field":"y","type":"quantitative"}}},
{"data":{"name":"series"},"mark":{"type":"point","filled":false,"size":0,"strokeWidth":1,"opacity":1},
"encoding":{
"color":{"field":"s","type":"nominal","scale":{"domain":["UP","DOWN"],"range":["#0000ff","#ff0000"]},"legend":{"title":null,"orient":"none","legendX":16,"legendY":26}},
"shape":{"field":"s","type":"nominal","scale":{"domain":["UP","DOWN"],"range":["M-1,0L3.2,0M1.1,-0.5L1.45,0L1.1,0.5L0.75,0Z","M-1,0L3.2,0M0.7,-0.4L1.5,-0.4L1.5,0.4L0.7,0.4Z"]},"legend":{"title":null,"orient":"none","legendX":16,"legendY":26}}}},
{"data":{"name":"annR"},"mark":{"type":"text","align":"left","baseline":"alphabetic","font":"Liberation Serif","fontWeight":"bold","fontSize":32,"color":"black"},
"encoding":{"x":{"field":"x","type":"quantitative"},"y":{"field":"y","type":"quantitative"},"text":{"field":"label"}}}
]
}
]
}
